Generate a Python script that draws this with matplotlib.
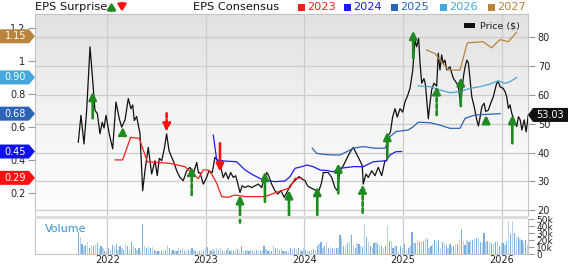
import matplotlib
matplotlib.use("Agg")
import matplotlib.pyplot as plt
import numpy as np
from matplotlib.colors import LinearSegmentedColormap
from matplotlib.patches import Polygon, Rectangle

# ---------------- data (dates as decimal years) ----------------
price_dates = [2021.706, 2021.733, 2021.764, 2021.791, 2021.825, 2021.852, 2021.875, 2021.899, 2021.926, 2021.949,
               2021.967, 2021.987, 2022.020, 2022.055, 2022.088, 2022.122, 2022.146, 2022.180, 2022.213, 2022.240,
               2022.258, 2022.274, 2022.298, 2022.332, 2022.359, 2022.382, 2022.416, 2022.450, 2022.484, 2022.507,
               2022.527, 2022.552, 2022.578, 2022.602, 2022.626, 2022.653, 2022.676, 2022.704, 2022.737, 2022.771,
               2022.805, 2022.839, 2022.872, 2022.907, 2022.925, 2022.940, 2022.974, 2023.008, 2023.031, 2023.065,
               2023.092, 2023.120, 2023.143, 2023.176, 2023.201, 2023.227, 2023.252, 2023.278, 2023.302, 2023.322,
               2023.346, 2023.369, 2023.397, 2023.430, 2023.465, 2023.498, 2023.531, 2023.566, 2023.589, 2023.617,
               2023.637, 2023.667, 2023.701, 2023.728, 2023.762, 2023.795, 2023.830, 2023.853, 2023.886, 2023.921,
               2023.944, 2023.972, 2024.005, 2024.032, 2024.056, 2024.089, 2024.124, 2024.147, 2024.174, 2024.191,
               2024.208, 2024.241, 2024.276, 2024.309, 2024.333, 2024.360, 2024.394, 2024.428, 2024.461, 2024.495,
               2024.529, 2024.563, 2024.586, 2024.596, 2024.624, 2024.647, 2024.682, 2024.715, 2024.748, 2024.783,
               2024.816, 2024.834, 2024.850, 2024.871, 2024.894, 2024.918, 2024.941, 2024.969, 2024.996, 2025.019,
               2025.047, 2025.070, 2025.098, 2025.121, 2025.138, 2025.158, 2025.172, 2025.189, 2025.212, 2025.227,
               2025.256, 2025.273, 2025.290, 2025.313, 2025.341, 2025.357, 2025.374, 2025.391, 2025.408, 2025.425,
               2025.442, 2025.476, 2025.494, 2025.510, 2025.544, 2025.561, 2025.578, 2025.585, 2025.595, 2025.612,
               2025.629, 2025.647, 2025.663, 2025.680, 2025.697, 2025.721, 2025.748, 2025.764, 2025.782, 2025.799,
               2025.822, 2025.838, 2025.865, 2025.889, 2025.915, 2025.949, 2025.966, 2025.983, 2026.016, 2026.034,
               2026.051, 2026.068, 2026.085, 2026.102, 2026.126, 2026.153, 2026.170, 2026.188, 2026.205, 2026.228,
               2026.248, 2026.270]
price_vals = [43.6, 52.9, 43.0, 54.6, 76.6, 65.0, 54.6, 53.5, 46.5, 50.5,
              48.5, 52.9, 46.5, 41.3, 57.5, 51.7, 48.8, 51.3, 58.7, 55.2,
              56.5, 51.1, 52.5, 46.5, 26.8, 33.7, 41.8, 32.6, 37.2, 32.0,
              38.0, 37.2, 41.3, 46.5, 40.7, 38.4, 36.6, 33.7, 31.4, 30.3,
              33.7, 34.9, 32.6, 36.6, 33.0, 33.1, 29.1, 31.4, 33.7, 33.1,
              38.4, 37.2, 36.0, 31.4, 33.1, 30.9, 33.1, 31.4, 32.0, 29.5,
              26.2, 28.5, 27.9, 28.5, 27.9, 28.5, 29.1, 27.9, 30.9, 33.1,
              32.0, 29.1, 26.8, 25.7, 26.8, 24.5, 26.8, 28.5, 29.7, 30.9,
              31.7, 30.9, 30.3, 28.5, 27.9, 27.4, 26.8, 26.8, 29.7, 33.1,
              33.1, 33.1, 31.4, 27.9, 26.8, 33.7, 35.5, 37.8, 40.1, 41.8,
              39.5, 37.2, 35.5, 29.1, 32.6, 31.4, 33.7, 32.0, 34.9, 32.0,
              37.2, 37.2, 45.9, 47.0, 52.3, 55.2, 52.3, 55.2, 54.0, 57.5,
              59.8, 62.2, 68.5, 79.0, 76.6, 79.5, 71.0, 64.0, 65.6, 63.5,
              51.7, 57.1, 61.7, 64.0, 63.0, 74.4, 68.6, 73.8, 70.9, 72.0,
              68.6, 69.7, 67.4, 65.7, 64.0, 62.8, 58.2, 55.9, 60.5, 66.3,
              69.7, 72.0, 70.9, 65.1, 59.3, 55.9, 51.3, 49.2, 52.4, 55.9,
              57.1, 54.2, 54.7, 57.1, 59.3, 64.0, 64.5, 62.8, 62.2, 61.1,
              59.3, 55.3, 56.5, 53.6, 51.3, 49.0, 52.4, 51.3, 47.8, 51.3,
              47.2, 53.03]

eps2023_dates = [2022.079, 2022.156, 2022.237, 2022.325, 2022.406, 2022.636, 2022.788, 2022.859, 2022.923, 2022.974,
                 2023.024, 2023.062, 2023.110, 2023.160, 2023.227, 2023.295, 2023.397, 2023.599, 2023.734, 2023.853,
                 2023.904, 2023.972]
eps2023_vals = [0.399, 0.399, 0.536, 0.530, 0.388, 0.378, 0.358, 0.320, 0.285, 0.338,
                0.338, 0.310, 0.257, 0.176, 0.172, 0.186, 0.176, 0.176, 0.206, 0.230,
                0.287, 0.290]

eps2024_dates = [2023.075, 2023.110, 2023.194, 2023.312, 2023.397, 2023.481, 2023.582, 2023.701, 2023.802, 2023.853,
                 2023.904, 2023.972, 2024.022, 2024.089, 2024.157, 2024.225, 2024.292, 2024.360, 2024.495, 2024.596,
                 2024.698, 2024.827, 2024.867, 2024.928, 2024.986]
eps2024_vals = [0.550, 0.399, 0.392, 0.388, 0.338, 0.307, 0.277, 0.267, 0.271, 0.297,
                0.348, 0.358, 0.368, 0.358, 0.338, 0.335, 0.327, 0.348, 0.358, 0.358,
                0.388, 0.394, 0.429, 0.449, 0.450]

eps2025_dates = [2024.079, 2024.124, 2024.191, 2024.292, 2024.360, 2024.428, 2024.495, 2024.596, 2024.715, 2024.816,
                 2024.867, 2024.928, 2025.053, 2025.103, 2025.154, 2025.273, 2025.374, 2025.476, 2025.578, 2025.629,
                 2025.730, 2025.984]
eps2025_vals = [0.470, 0.439, 0.433, 0.429, 0.429, 0.449, 0.470, 0.480, 0.470, 0.470,
                0.540, 0.571, 0.581, 0.601, 0.628, 0.625, 0.610, 0.591, 0.591, 0.652,
                0.672, 0.680]

eps2026_dates = [2025.154, 2025.273, 2025.374, 2025.476, 2025.578, 2025.680, 2025.780, 2025.882, 2025.966, 2026.033,
                 2026.084, 2026.152]
eps2026_vals = [0.848, 0.844, 0.824, 0.807, 0.814, 0.834, 0.844, 0.860, 0.880, 0.864,
                0.874, 0.900]

eps2027_dates = [2025.239, 2025.323, 2025.374, 2025.458, 2025.578, 2025.651, 2025.813, 2025.898, 2025.983, 2026.067,
                 2026.152]
eps2027_vals = [1.067, 1.045, 1.006, 0.945, 0.945, 1.110, 1.117, 1.080, 1.130, 1.117, 1.175]

# EPS surprise arrows: date, arrow tip, arrow tail, direction, dashed
surprise_dates = [2021.852, 2022.156, 2022.602, 2022.856, 2023.143, 2023.346, 2023.599, 2023.843, 2024.130,
                  2024.343, 2024.590, 2024.840, 2025.103, 2025.341, 2025.585, 2025.842, 2026.108]
surprise_tip = [0.813, 0.601, 0.570, 0.358, 0.327, 0.186, 0.327, 0.216, 0.236,
                0.378, 0.251, 0.570, 1.184, 0.848, 0.901, 0.672, 0.672]
surprise_tail = [0.652, 0.550, 0.682, 0.186, 0.500, 0.018, 0.145, 0.048, 0.064,
                 0.196, 0.078, 0.409, 1.016, 0.672, 0.727, 0.622, 0.500]
surprise_up = [True, True, False, True, False, True, True, True, True,
               True, True, True, True, True, True, True, True]
surprise_dashed = [False, True, True, True, False, False, False, False, False,
                   False, True, False, False, True, False, False, False]

# weekly volume (thousands)
volume_start = 2021.706
volume_k = [32, 25, 14, 11, 13, 18, 9, 13, 12, 13, 16, 9, 12, 9, 5, 5, 9, 6, 13, 11,
            14, 6, 12, 9, 6, 14, 11, 6, 18, 11, 9, 6, 9, 5, 43, 11, 9, 11, 9, 10,
            6, 5, 4, 5, 4, 5, 6, 13, 9, 5, 6, 4, 5, 9, 6, 8, 5, 4, 6, 5,
            9, 6, 4, 5, 4, 6, 4, 8, 10, 6, 5, 7, 5, 8, 6, 8, 5, 4, 6, 8,
            5, 6, 4, 5, 7, 4, 12, 5, 4, 6, 5, 7, 4, 5, 6, 5, 4, 6, 12, 7,
            5, 6, 4, 11, 9, 8, 6, 8, 5, 4, 5, 4, 8, 6, 9, 7, 8, 6, 4, 9,
            6, 4, 5, 6, 7, 6, 11, 14, 18, 9, 11, 17, 8, 10, 8, 9, 9, 9, 27, 23,
            11, 12, 16, 19, 27, 13, 8, 16, 14, 11, 10, 43, 24, 17, 11, 9, 16, 18, 14, 12,
            11, 9, 12, 40, 19, 19, 9, 11, 12, 5, 11, 9, 14, 5, 9, 11, 32, 16, 16, 20,
            17, 18, 19, 23, 21, 8, 12, 14, 20, 17, 20, 8, 17, 16, 13, 8, 14, 11, 12, 14,
            14, 20, 36, 19, 13, 20, 18, 20, 20, 21, 23, 25, 17, 17, 31, 18, 19, 18, 16, 14,
            18, 19, 11, 16, 16, 13, 17, 48, 29, 48, 30, 25, 24, 22, 20, 16, 20, 13]

years = [2022, 2023, 2024, 2025, 2026]
price_ticks = [20, 30, 40, 50, 60, 70, 80]
eps_ticks = [0.2, 0.4, 0.6, 0.8, 1.0, 1.2]
vol_ticks = [0, 10, 20, 30, 40, 50]
vol_tick_labels = ["0", "10k", "20k", "30k", "40k", "50k"]

callout_eps = [1.15, 0.90, 0.68, 0.45, 0.29]
callout_labels = ["1.15", "0.90", "0.68", "0.45", "0.29"]
callout_price = 53.03

# ---------------- style ----------------
c2023, c2024, c2025, c2026, c2027 = "#ff1c1c", "#1a1aff", "#2a63b8", "#45a7dc", "#b8843c"
callout_colors = [c2027, c2026, c2025, "#1010f0", "#ff1010"]
green = "#1f8a1f"
grid_c = "#cccccc"
text_c = "#222222"
plt.rcParams["font.family"] = ["DejaVu Sans"]

W, H = 568, 264
def fx(x): return x / W
def fy(y): return 1 - y / H

X0, X1 = 2021.267, 2026.267
P0, P1 = 18.06, 87.96
E0, E1 = 0.0583, 1.2855

fig = plt.figure(figsize=(W / 100, H / 100), dpi=100)
ax = fig.add_axes([fx(35), fy(216), fx(528) - fx(35), fy(14) - fy(216)])
ax_e = ax.twinx()

ax.set_xlim(X0, X1)
ax.set_ylim(P0, P1)

cmap = LinearSegmentedColormap.from_list("bg", ["#e1e1e1", "#f3f3f3", "#ffffff"])
ax.imshow(np.linspace(0, 1, 256)[:, None], extent=[X0, X1, P0, P1], aspect="auto",
          cmap=cmap, zorder=0, interpolation="bilinear")
ax.set_axisbelow(True)
ax.grid(True, color=grid_c, lw=0.9)
ax.set_xticks(years)
ax.tick_params(axis="x", length=0, labelbottom=False)
ax.set_yticks(price_ticks)
ax.yaxis.tick_right()
ax.yaxis.set_label_position("right")
ax.tick_params(axis="y", which="both", left=False, labelleft=False, right=True, labelright=True,
               length=5, width=0.8, color="#999999", labelsize=7, labelcolor=text_c, pad=2)
for s in ["left", "right", "top"]:
    ax.spines[s].set_color("#c4c4c4")
    ax.spines[s].set_linewidth(0.8)
ax.spines["bottom"].set_visible(False)

ax.plot(price_dates, price_vals, color="#111111", lw=0.9, zorder=3)

ax_e.set_zorder(ax.get_zorder() + 1)
ax_e.patch.set_visible(False)
ax_e.set_ylim(E0, E1)
ax_e.set_yticks(eps_ticks)
ax_e.set_yticklabels(["%g" % v for v in eps_ticks])
ax_e.yaxis.tick_left()
ax_e.tick_params(axis="y", which="both", right=False, labelright=False, left=True, labelleft=True,
                 length=5, width=0.8, color="#999999", labelsize=7, labelcolor=text_c, pad=2)
for s in ax_e.spines.values():
    s.set_visible(False)

for d, v, c in [(eps2023_dates, eps2023_vals, c2023), (eps2024_dates, eps2024_vals, c2024),
                (eps2025_dates, eps2025_vals, c2025), (eps2026_dates, eps2026_vals, c2026),
                (eps2027_dates, eps2027_vals, c2027)]:
    ax_e.plot(d, v, color=c, lw=0.9, zorder=2)

for d, tip, tail, up, dashed in zip(surprise_dates, surprise_tip, surprise_tail, surprise_up, surprise_dashed):
    col = green if up else "#ff1010"
    ax_e.annotate("", xy=(d, tip), xytext=(d, tail), annotation_clip=False,
                  arrowprops=dict(arrowstyle="-|>,head_length=0.45,head_width=0.22", color=col, lw=1.9,
                                  linestyle=(0, (1.6, 0.9)) if dashed else "-",
                                  shrinkA=0, shrinkB=0, mutation_scale=10), zorder=5)

# left callouts
tr = ax_e.get_yaxis_transform()
bw = 35 / 493.0
hh = 7 / 164.6
pt = 6 / 493.0
for v, lab, col in zip(callout_eps, callout_labels, callout_colors):
    poly = Polygon([(-bw, v - hh), (-pt, v - hh), (0, v), (-pt, v + hh), (-bw, v + hh)], closed=True,
                   transform=tr, facecolor=col, edgecolor="none", clip_on=False, zorder=10)
    ax_e.add_patch(poly)
    ax_e.text(-bw + 15.5 / 493.0, v, lab, transform=tr, color="white", fontsize=7,
              ha="center", va="center", clip_on=False, zorder=11)

# right callout
trp = ax.get_yaxis_transform()
ph = 7 / 2.89
poly = Polygon([(1.0, callout_price), (1 + 5 / 493.0, callout_price + ph), (1 + 40 / 493.0, callout_price + ph),
                (1 + 40 / 493.0, callout_price - ph), (1 + 5 / 493.0, callout_price - ph)], closed=True,
               transform=trp, facecolor="#111111", edgecolor="none", clip_on=False, zorder=10)
ax.add_patch(poly)
ax.text(1 + 22 / 493.0, callout_price, "%.2f" % callout_price, transform=trp, color="white", fontsize=7,
        ha="center", va="center", clip_on=False, zorder=11)

# price legend
fig.patches.append(Rectangle((fx(464), fy(27.5)), fx(10.5), 4.5 / H, transform=fig.transFigure,
                             facecolor="#111111", edgecolor="none"))
fig.text(fx(480), fy(25.5), "Price ($)", fontsize=6.8, color=text_c, va="center", ha="left")

# separator band
fig.patches.append(Rectangle((fx(35), fy(219)), fx(493), 3 / H, transform=fig.transFigure,
                             facecolor="#dddddd", edgecolor="none"))

# volume panel
axv = fig.add_axes([fx(35), fy(254), fx(493), fy(219) - fy(254)])
axv.set_xlim(X0, X1)
axv.set_ylim(0, 50.5)
vol_dates = volume_start + np.arange(len(volume_k)) / 52.0
vcols = ["#78aee0" if i % 2 == 0 else "#b6d3ee" for i in range(len(volume_k))]
axv.bar(vol_dates, volume_k, width=0.0125, color=vcols, linewidth=0, zorder=2)
axv.set_xticks(years)
axv.set_xticklabels([str(y) for y in years])
axv.grid(True, axis="x", color=grid_c, lw=0.9)
axv.set_axisbelow(True)
axv.tick_params(axis="x", length=0, labelsize=7, labelcolor=text_c, pad=0.5)
axv.yaxis.tick_right()
axv.set_yticks(vol_ticks)
axv.set_yticklabels(vol_tick_labels)
axv.tick_params(axis="y", length=4, width=0.8, color="#999999", labelsize=6.5, labelcolor=text_c, pad=2)
for s in ["left", "right", "bottom"]:
    axv.spines[s].set_color("#c4c4c4")
    axv.spines[s].set_linewidth(0.8)
axv.spines["top"].set_visible(False)
axv.text(0.02, 0.72, "Volume", transform=axv.transAxes, fontsize=8, color="#3d8fd0", va="center", ha="left")

# top legend
fig.text(fx(35), fy(7), "EPS Surprise", fontsize=8.2, color="#111111", va="center", ha="left")
ax.annotate("", xy=(fx(111.5), fy(2.5)), xytext=(fx(111.5), fy(11)), xycoords="figure fraction",
            arrowprops=dict(arrowstyle="-|>,head_length=0.4,head_width=0.25", color=green, lw=1.8,
                            shrinkA=0, shrinkB=0, mutation_scale=10), annotation_clip=False)
ax.annotate("", xy=(fx(122), fy(11.5)), xytext=(fx(122), fy(3)), xycoords="figure fraction",
            arrowprops=dict(arrowstyle="-|>,head_length=0.4,head_width=0.25", color="#ff1010", lw=1.8,
                            shrinkA=0, shrinkB=0, mutation_scale=10), annotation_clip=False)
fig.text(fx(193), fy(7), "EPS Consensus", fontsize=8.2, color="#111111", va="center", ha="left")
for x, lab, col in [(297.5, "2023", c2023), (344, "2024", c2024), (391, "2025", c2025),
                    (440, "2026", c2026), (488, "2027", c2027)]:
    fig.patches.append(Rectangle((fx(x), fy(10.5)), fx(7), 7 / H, transform=fig.transFigure,
                                 facecolor=col, edgecolor="none"))
    fig.text(fx(x + 9.5), fy(7), lab, fontsize=8.2, color=col, va="center", ha="left")

fig.savefig("out.png", dpi=100)
